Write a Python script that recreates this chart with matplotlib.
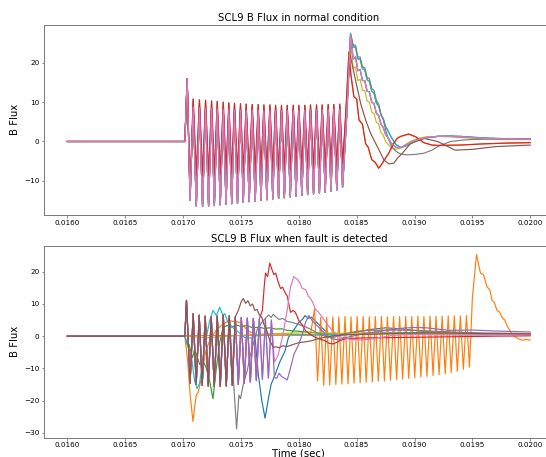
import matplotlib
matplotlib.use('Agg')
import matplotlib.pyplot as plt

# ---------------- data ----------------
# top panel: switching oscillation shared by all lines
top_head_t = [0.0160, 0.017015, 0.017035]
top_head_v = [0, 0, 16]
top_trough_t = [0.017060, 0.017114, 0.017168, 0.017220, 0.017270, 0.017321, 0.017371, 0.017420,
                0.017470, 0.017520, 0.017571, 0.017623, 0.017673, 0.017724, 0.017775, 0.017825,
                0.017875, 0.017926, 0.017976, 0.018026, 0.018076, 0.018127, 0.018178, 0.018228,
                0.018278, 0.018328, 0.018378]
top_peak_t = [0.017087, 0.017141, 0.017194, 0.017246, 0.017295, 0.017347, 0.017395, 0.017444,
              0.017496, 0.017545, 0.017597, 0.017649, 0.017698, 0.017750, 0.017799, 0.017850,
              0.017900, 0.017952, 0.018000, 0.018052, 0.018101, 0.018153, 0.018202, 0.018254,
              0.018302, 0.018354]
# group A (red / brown): higher peaks, shallow troughs
a_trough_v = [-13.0, -8.6, -8.7, -8.6, -8.5, -8.4, -8.3, -8.2, -8.1, -8.0, -7.9, -7.8, -7.7, -7.6,
              -7.5, -7.4, -7.3, -7.2, -7.1, -7.0, -6.9, -6.8, -6.7, -6.6, -6.4, -6.2, -5.6]
a_peak_v = [10.8, 10.6, 10.5, 10.3, 10.2, 10.0, 9.8, 9.7, 9.6, 9.5, 9.4, 9.4, 9.3, 9.3, 9.2, 9.2,
            9.2, 9.2, 9.2, 9.2, 9.3, 9.3, 9.3, 9.4, 9.4, 9.5]
# group B (the rest): deep troughs
b_trough_v = [-14.9, -16.4, -16.5, -16.4, -16.3, -16.1, -16.0, -15.8, -15.7, -15.5, -15.3, -15.2,
              -15.0, -14.8, -14.6, -14.5, -14.3, -14.1, -13.9, -13.7, -13.5, -13.3, -13.1, -12.9,
              -12.6, -12.3, -11.6]
b_peak_v = [8.8, 8.6, 8.5, 8.4, 8.3, 8.2, 8.1, 8.0, 8.0, 7.9, 7.9, 7.9, 7.8, 7.8, 7.8, 7.8, 7.9,
            7.9, 7.9, 8.0, 8.0, 8.0, 8.1, 8.1, 8.2, 8.2]

# top panel tails after 0.0184
bundle_t = [0.01841, 0.018447, 0.01847, 0.01849, 0.01851, 0.01853, 0.01855, 0.01857, 0.01859,
            0.01861, 0.01863, 0.01865, 0.01867, 0.01869, 0.01871, 0.01873, 0.01875, 0.01877,
            0.01880, 0.01884, 0.01888, 0.01892, 0.01897, 0.01903, 0.0191, 0.0192, 0.0193,
            0.0194, 0.0195, 0.0196, 0.0197, 0.0198, 0.0199, 0.0200]
bundle_mid = [5, 27, 21, 21.5, 18, 18.3, 15.5, 15.5, 12.8, 12.6, 10, 9.6, 7.2, 6.6, 4.4, 3.6, 1.8,
              1.0, -0.5, -1.5, -1.6, -1.0, -0.2, 0.5, 1.0, 1.3, 1.3, 1.2, 1.0, 0.8, 0.7, 0.6, 0.6, 0.6]
bundle_high = [4, 27.5, 24, 24, 21, 21, 18.5, 18.2, 15.7, 15.3, 12.8, 12.2, 9.8, 9.0, 6.8, 5.8, 3.8,
               2.8, 1.0, -0.8, -1.5, -1.2, -0.5, 0.3, 0.9, 1.3, 1.4, 1.3, 1.1, 0.9, 0.8, 0.7, 0.7, 0.7]
bundle_low = [6, 25.5, 18.5, 19, 15.5, 15.8, 13, 13, 10.3, 10, 7.5, 7.1, 4.9, 4.4, 2.3, 1.6, 0,
              -0.7, -1.6, -2.0, -1.6, -0.8, 0.1, 0.8, 1.2, 1.3, 1.2, 1.0, 0.8, 0.6, 0.5, 0.5, 0.5, 0.5]
top_red_t = [0.01840, 0.018433, 0.01845, 0.018476, 0.0185, 0.01852, 0.01855, 0.018577, 0.0186,
             0.01863, 0.01866, 0.01869, 0.01872, 0.01875, 0.01878, 0.01882, 0.01885, 0.01888,
             0.01895, 0.01901, 0.01908, 0.01915, 0.0192, 0.0194, 0.0196, 0.0198, 0.0200]
top_red_v = [4, 22.8, 17, 11.4, 10.8, 5.5, 4.4, -0.5, -1.5, -4.6, -5.3, -6.8, -5.6, -4.2, -2.8,
             -0.5, 0.8, 1.3, 1.9, 1.2, -0.3, -0.9, -1.0, -0.9, -0.6, -0.4, -0.3]
top_brown_t = [0.01840, 0.01844, 0.01849, 0.018534, 0.018577, 0.01862, 0.018678, 0.018736,
               0.018779, 0.018822, 0.018851, 0.018894, 0.018966, 0.01908, 0.0192, 0.01935,
               0.0195, 0.0197, 0.0200]
top_brown_v = [4, 22.5, 15.6, 9.7, 5.5, 2.1, -1.3, -4.7, -5.7, -5.5, -4.3, -3.0, -0.5, 0.8, 0.0,
               -2.2, -2.0, -1.3, -0.9]
top_gray_t = [0.01841, 0.01845, 0.01847, 0.01849, 0.01851, 0.01853, 0.01855, 0.01857, 0.01859,
              0.01861, 0.01863, 0.01865, 0.01867, 0.01869, 0.01871, 0.01873, 0.01875, 0.01877,
              0.01880, 0.01884, 0.01888, 0.01893, 0.01900, 0.01908, 0.01915, 0.0192, 0.01931,
              0.01943, 0.0195, 0.0196, 0.0198, 0.0200]
top_gray_v = [4, 27, 24.5, 24.5, 21.5, 21.5, 19, 18.8, 16.3, 16, 13.5, 13, 10.5, 9.5, 7, 5.5, 3, 1,
              -1.2, -2.5, -3.2, -3.4, -3.3, -3.0, -2.2, -1.3, 0, 0.4, 0.5, 0.6, 0.7, 0.7]

# bottom panel: shared switching oscillation before each fault
bot_flat_t = [0.0160, 0.017015]
bot_flat_v = [0, 0]
bot_spike_t = [0.017029]
bot_spike_v = [11.1]
bot_trough_t = [0.017060, 0.017113, 0.017165, 0.017217, 0.017269, 0.017321, 0.017373, 0.017425,
                0.017477, 0.017529, 0.017581, 0.017633, 0.017685, 0.017737, 0.017789]
bot_peak_t = [0.017087, 0.017139, 0.017191, 0.017243, 0.017295, 0.017347, 0.017399, 0.017451,
              0.017503, 0.017555, 0.017607, 0.017659, 0.017711, 0.017763]
bot_trough_v = [-14.6, -15.0, -15.3, -15.5, -15.6, -15.6, -15.5, -15.3, -15.0, -14.6, -14.2,
                -13.8, -13.4, -13.0, -12.8]
bot_peak_v = [7.0, 6.5, 6.2, 6.0, 6.2, 6.5, 6.3, 6.0, 5.8, 5.6, 5.5, 5.3, 5.2, 5.0]

gray_t = [0.017462, 0.017482, 0.017496, 0.017525, 0.017553, 0.01758, 0.01761, 0.01764, 0.01768,
          0.01771, 0.01774, 0.01776, 0.01778, 0.0178, 0.01783, 0.01786, 0.0179, 0.01795, 0.0180,
          0.01805, 0.0181, 0.01815, 0.0182, 0.01825, 0.0183, 0.01835, 0.0184, 0.0185, 0.0186,
          0.0188, 0.0190, 0.0192, 0.0194, 0.0196, 0.0198, 0.0200]
gray_v = [-28.8, -18.3, -19.4, -14.1, -10.9, -6.0, -2.0, 2.0, 4.3, 5.5, 6.6, 5.8, 6.8, 6.0, 5.2,
          5.5, 4.6, 4.2, 3.6, 3.0, 2.2, 1.2, 0.3, -0.3, -0.4, 0.2, 0.8, 1.5, 1.8, 1.9, 1.8, 1.5,
          1.2, 1.0, 0.9, 0.8]
brown_t = [0.017451, 0.017477, 0.0175, 0.01752, 0.01754, 0.01756, 0.01758, 0.0176, 0.01762,
           0.01764, 0.01766, 0.01768, 0.0177, 0.01772, 0.01775, 0.01778, 0.0178, 0.01783, 0.01786,
           0.0179, 0.01795, 0.0180, 0.01805, 0.0181, 0.0182, 0.0183, 0.0184, 0.0186, 0.0188,
           0.0190, 0.0192, 0.0194, 0.0196, 0.0198, 0.0200]
brown_v = [6.0, 8.0, 10.5, 11.7, 10.2, 11.0, 9.4, 10.0, 8.0, 8.3, 6.5, 5.9, 3.5, 2.2, -1.5, -3.5,
           -3.3, -3.6, -3.0, -3.2, -2.6, -2.0, -1.8, -1.5, -0.5, 0.1, 0.4, 0.6, 0.8, 1.0, 1.0,
           0.9, 0.8, 0.8, 0.7]
blue_t = [0.01765, 0.01768, 0.017708, 0.017737, 0.01776, 0.017795, 0.01782, 0.017838, 0.017881,
          0.01791, 0.017953, 0.018, 0.01803, 0.018054, 0.01808, 0.018111, 0.01814, 0.018169,
          0.0182, 0.018226, 0.01826, 0.0183, 0.0184, 0.0185, 0.0186, 0.01875, 0.0189, 0.0191,
          0.0193, 0.0195, 0.0197, 0.0200]
blue_v = [-12, -20, -25.5, -19.4, -15, -12, -9.5, -7.8, -4.6, -0.4, 1.7, 4.3, 5.2, 6.4, 5.5, 5.9,
          4.8, 3.8, 2.6, 1.7, 0.6, 0.3, 0.5, 1.2, 2.0, 2.6, 2.2, 1.4, 0.9, 0.8, 0.8, 0.8]
red_t = [0.017685, 0.0177, 0.017712, 0.01773, 0.017749, 0.017765, 0.017784, 0.0178, 0.01782,
         0.017842, 0.01786, 0.017885, 0.0179, 0.017928, 0.01795, 0.017971, 0.018, 0.01803,
         0.018058, 0.0181, 0.018145, 0.01819, 0.018231, 0.01826, 0.0183, 0.01835, 0.0184, 0.0185,
         0.0187, 0.0189, 0.0191, 0.0193, 0.0195, 0.0197, 0.0200]
red_v = [8, 15, 19.6, 18.5, 22.7, 21.0, 19.1, 19.6, 17, 14.8, 15.2, 13.2, 12.5, 7.4, 8.0, 7.4, 4.8,
         3.5, 1.7, 0.5, -0.4, -1.0, -1.5, -2.2, -2.4, -1.5, -0.8, -0.6, -0.5, -0.4, -0.3, -0.2,
         -0.1, 0.0, 0.1]
pink_t = [0.01779, 0.01782, 0.01786, 0.017899, 0.017928, 0.017957, 0.01799, 0.01801, 0.01803,
          0.01806, 0.01808, 0.018101, 0.01812, 0.018145, 0.01817, 0.018202, 0.01825, 0.01829,
          0.018361, 0.01845, 0.01855, 0.01865, 0.0188, 0.0190, 0.0192, 0.0194, 0.0196, 0.0198,
          0.0200]
pink_v = [-8, -6, 0, 8, 15.3, 18.5, 17.5, 16.5, 14.8, 14.5, 12.5, 11.7, 10.5, 8.2, 7.5, 5.9, 3.5,
          1.7, -0.3, -1.0, -1.2, -0.8, 0.2, 0.6, 0.4, 0.3, 0.3, 0.4, 0.5]
purple_t = [0.017809, 0.01783, 0.01785, 0.0179, 0.017928, 0.017957, 0.018, 0.01803, 0.018058,
            0.018087, 0.018116, 0.018174, 0.018231, 0.01829, 0.01835, 0.0184, 0.0185, 0.0186,
            0.0188, 0.0189, 0.0190, 0.0191, 0.0193, 0.0195, 0.0197, 0.0200]
purple_v = [-13.1, -11.5, -12.5, -13.6, -9.9, -5.7, -2.5, 0.6, 4.3, 6.4, 4.8, 2.7, 0.6, -0.9,
            -1.1, -0.5, 0.3, 1.0, 2.0, 2.5, 2.7, 2.6, 1.8, 1.9, 1.6, 1.3]
cyan_t = [0.016, 0.017015, 0.01704, 0.01707, 0.0171, 0.017121, 0.017143, 0.017172, 0.0172,
          0.01723, 0.017258, 0.017287, 0.017316, 0.017345, 0.01736, 0.017388, 0.01743, 0.01748,
          0.017532, 0.01759, 0.017648, 0.0177, 0.0178, 0.0180, 0.0182, 0.0184, 0.0186, 0.0188,
          0.0190, 0.0192, 0.0194, 0.0196, 0.0198, 0.0200]
cyan_v = [0, 0, -3, -6, -14, -16.3, -14.5, -6.7, -0.4, 4.8, 8.0, 6.4, 9.0, 6.4, 7.0, 4.3, 2.7, 1.2,
          -0.4, -0.6, 0.3, 0.6, 0.8, 0.5, 0.3, 0.5, 0.8, 1.0, 1.0, 0.8, 0.6, 0.5, 0.5, 0.5]
green_t = [0.016, 0.017015, 0.017035, 0.017051, 0.01708, 0.0171, 0.017143, 0.01717, 0.0172,
           0.01723, 0.017258, 0.017287, 0.017316, 0.017345, 0.01738, 0.01742, 0.01746, 0.0175,
           0.01755, 0.0176, 0.01766, 0.0177, 0.01775, 0.0178, 0.01785, 0.0179, 0.0180, 0.0181,
           0.0182, 0.0184, 0.0186, 0.0188, 0.0190, 0.0192, 0.0194, 0.0196, 0.0198, 0.0200]
green_v = [0, 0, -2.5, -2.5, -6.7, -4, -8.8, -7.5, -9.9, -14.1, -19.4, -9.9, -2, 2.7, 3.3, 2.8,
           3.5, 3.0, 3.3, 2.6, 2.8, 2.4, 2.6, 2.2, 2.3, 1.8, 1.5, 1.2, 0.8, 0.6, 0.7, 0.8, 0.8,
           0.8, 0.8, 0.7, 0.6, 0.6]
orange1_t = [0.016, 0.017015, 0.01704, 0.01706, 0.017085, 0.0171, 0.017114, 0.01713, 0.017157,
             0.01718, 0.0172, 0.017243, 0.01729, 0.01733, 0.01736, 0.017388, 0.01744, 0.017489,
             0.017561, 0.01762, 0.0177, 0.0178, 0.0180, 0.0182, 0.0184, 0.0186, 0.0188, 0.0190,
             0.0192, 0.0194, 0.0196, 0.0198, 0.0200]
orange1_v = [0, 0, -8, -18, -26.5, -22, -18.3, -17.5, -13.1, -8, -4, -0.4, 2.0, 3.3, 4.0, 4.8, 4.6,
             4.3, 1.7, 0.5, 0.2, 0.4, 0.3, 0.5, 0.8, 1.0, 1.1, 1.1, 1.0, 0.9, 0.8, 0.8, 0.7]
olive_t = [0.016, 0.017015, 0.0172, 0.0174, 0.0176, 0.0178, 0.0180, 0.0182, 0.0185, 0.0190,
           0.0195, 0.0200]
olive_v = [0, 0, -0.5, 0, 0.5, 0.8, 1.0, 1.0, 0.8, 0.6, 0.7, 0.8]
# late oscillating line (orange)
orange2_flat_t = [0.016, 0.0181]
orange2_flat_v = [0, 0.3]
orange2_peak_t = [0.018136, 0.018189, 0.018241, 0.018294, 0.018346, 0.018399, 0.018451, 0.018504,
                  0.018556, 0.018609, 0.018661, 0.018714, 0.018766, 0.018819, 0.018871, 0.018924,
                  0.018976, 0.019029, 0.019081, 0.019134, 0.019186, 0.019239, 0.019291, 0.019344,
                  0.019396, 0.019449]
orange2_trough_t = [0.018162, 0.018215, 0.018267, 0.01832, 0.018372, 0.018425, 0.018477, 0.01853,
                    0.018582, 0.018635, 0.018687, 0.01874, 0.018792, 0.018845, 0.018897, 0.01895,
                    0.019002, 0.019055, 0.019107, 0.01916, 0.019212, 0.019265, 0.019317, 0.01937,
                    0.019422, 0.019475]
orange2_peak_v = [8.5, 5.8, 5.9, 6.0, 6.0, 6.1, 6.0, 6.1, 6.1, 6.0, 6.1, 6.1, 6.0, 6.1, 6.1, 6.1,
                  6.1, 6.2, 6.1, 6.2, 6.2, 6.2, 6.3, 6.3, 6.3, 6.4]
orange2_trough_v = [-13.9, -15.3, -15.2, -15.0, -14.9, -14.8, -14.6, -14.5, -14.3, -14.2, -14.0,
                    -13.9, -13.7, -13.5, -13.3, -13.1, -12.9, -12.7, -12.5, -12.2, -12.0, -11.7,
                    -11.3, -10.9, -10.3, -9.6]
orange2_tail_t = [0.0195, 0.019536, 0.019555, 0.01957, 0.019597, 0.019626, 0.01965, 0.01967,
                  0.01969, 0.019713, 0.019735, 0.019756, 0.01978, 0.0198, 0.019843, 0.019886,
                  0.01993, 0.01996, 0.0200]
orange2_tail_v = [12, 25.4, 22, 19.6, 19.1, 15.3, 14.5, 11.1, 10.5, 8.0, 7.5, 5.9, 5.0, 3.2, 0.6,
                  -0.6, -1.3, -1.0, -1.2]


def weave(first, second):
    out = []
    for i, a in enumerate(first):
        out.append(a)
        if i < len(second):
            out.append(second[i])
    return out


top_osc_t = weave(top_trough_t, top_peak_t)
top_a_v = weave(a_trough_v, a_peak_v)
top_b_v = weave(b_trough_v, b_peak_v)
bot_osc_t = weave(bot_trough_t, bot_peak_t)
bot_osc_v = weave(bot_trough_v, bot_peak_v)

fig = plt.figure(figsize=(5.46, 4.57), dpi=100)
ax1 = fig.add_axes([0.0811, 0.5295, 0.9324, 0.4164])
ax2 = fig.add_axes([0.0811, 0.0425, 0.9324, 0.4199])

LW = 0.85

# --- top panel ---
top_lines = [
    ('tab:blue', top_b_v, bundle_t, bundle_mid),
    ('tab:orange', top_b_v, top_red_t, top_red_v),
    ('tab:green', top_b_v, bundle_t, bundle_high),
    ('tab:olive', top_b_v, bundle_t, bundle_low),
    ('tab:cyan', top_b_v, bundle_t, bundle_high),
    ('tab:purple', top_b_v, bundle_t, bundle_mid),
    ('tab:gray', top_b_v, top_gray_t, top_gray_v),
    ('tab:brown', top_a_v, top_brown_t, top_brown_v),
    ('tab:red', top_a_v, top_red_t, top_red_v),
    ('tab:pink', top_b_v, bundle_t, bundle_mid),
]
for color, osc_v, tail_t, tail_v in top_lines:
    ax1.plot(top_head_t + top_osc_t + tail_t, top_head_v + osc_v + tail_v, color=color, lw=LW)

# --- bottom panel ---
def fault_line(k, tail_t, tail_v):
    t = bot_flat_t + bot_spike_t + bot_osc_t[:k] + tail_t
    v = bot_flat_v + bot_spike_v + bot_osc_v[:k] + tail_v
    return t, v


ax2.plot(*fault_line(22, blue_t, blue_v), color='tab:blue', lw=LW)
ax2.plot(orange1_t, orange1_v, color='tab:orange', lw=LW)
ax2.plot(orange2_flat_t + weave(orange2_peak_t, orange2_trough_t) + orange2_tail_t,
         orange2_flat_v + weave(orange2_peak_v, orange2_trough_v) + orange2_tail_v,
         color='tab:orange', lw=LW)
ax2.plot(green_t, green_v, color='tab:green', lw=LW)
ax2.plot(cyan_t, cyan_v, color='tab:cyan', lw=LW)
ax2.plot(olive_t, olive_v, color='tab:olive', lw=LW)
ax2.plot(*fault_line(14, gray_t, gray_v), color='tab:gray', lw=LW)
ax2.plot(*fault_line(24, red_t, red_v), color='tab:red', lw=LW)
ax2.plot(*fault_line(28, pink_t, pink_v), color='tab:pink', lw=LW)
ax2.plot(*fault_line(29, purple_t, purple_v), color='tab:purple', lw=LW)
ax2.plot(*fault_line(15, brown_t, brown_v), color='tab:brown', lw=LW)

ax1.set_title('SCL9 B Flux in normal condition', fontsize=7.3, pad=3)
ax2.set_title('SCL9 B Flux when fault is detected', fontsize=7.3, pad=3)
ax1.set_ylabel('B Flux', fontsize=7.3, labelpad=3)
ax2.set_ylabel('B Flux', fontsize=7.3, labelpad=3)
ax2.set_xlabel('Time (sec)', fontsize=7.3, labelpad=0)

for ax in (ax1, ax2):
    ax.tick_params(labelsize=5.2, length=1.8, width=0.5, pad=1.6, color='#555555')
    for s in ax.spines.values():
        s.set_linewidth(0.7)
        s.set_color('#777777')

fig.savefig('out.png', dpi=100)
